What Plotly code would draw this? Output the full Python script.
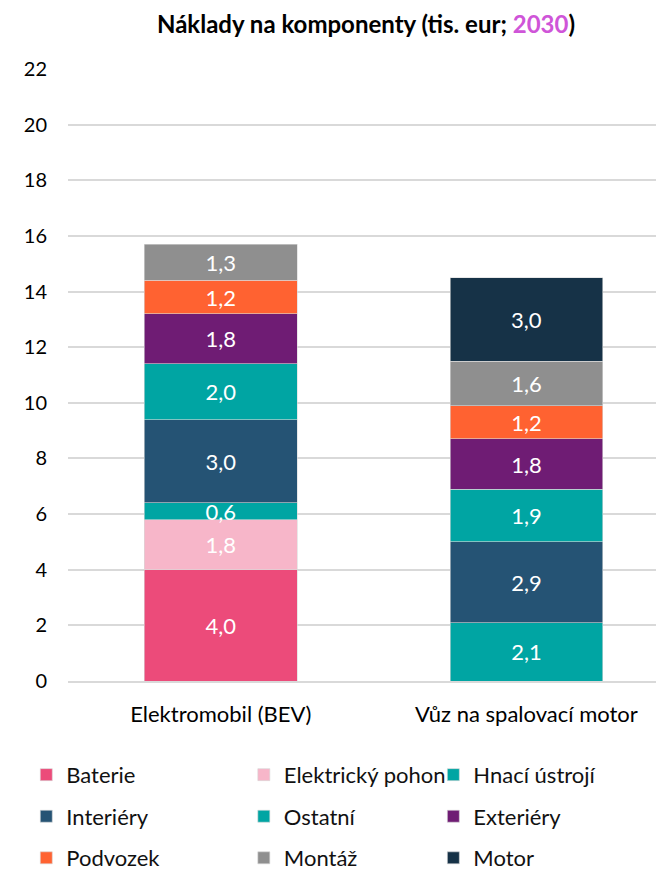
import plotly.graph_objects as go

categories = ["Elektromobil (BEV)", "Vůz na spalovací motor"]
series_names = ["Baterie", "Elektrický pohon", "Hnací ústrojí", "Interiéry", "Ostatní",
                "Exteriéry", "Podvozek", "Montáž", "Motor"]
baterie = [4.0, None]
elektricky_pohon = [1.8, None]
hnaci_ustroji = [0.6, 2.1]
interiery = [3.0, 2.9]
ostatni = [2.0, 1.9]
exteriery = [1.8, 1.8]
podvozek = [1.2, 1.2]
montaz = [1.3, 1.6]
motor = [None, 3.0]
series_values = [baterie, elektricky_pohon, hnaci_ustroji, interiery, ostatni,
                 exteriery, podvozek, montaz, motor]
colors = ["#EC4B7A", "#F7B6C9", "#00A5A3", "#255374", "#00A5A3",
          "#6F1C74", "#FF6231", "#8F8F8F", "#163247"]
tick_values = list(range(0, 23, 2))

FONT = "Lato"
legend_ids = ["legend", "legend2", "legend3"]

fig = go.Figure()
for i, (name, vals, col) in enumerate(zip(series_names, series_values, colors)):
    fig.add_trace(go.Bar(
        x=categories, y=vals, name=name,
        marker=dict(color=col, line=dict(width=0.6, color="#d8d8d8")),
        width=0.5,
        texttemplate="%{y:.1f}",
        textposition="inside", insidetextanchor="middle",
        textangle=0, constraintext="none",
        textfont=dict(color="white", size=22, family=FONT),
        legend=legend_ids[i % 3],
        legendgroup=name,
        hoverinfo="skip",
    ))

legend_common = dict(
    orientation="v", yanchor="top", y=-0.119, xanchor="left",
    font=dict(family=FONT, size=22, color="#111111"),
    tracegroupgap=10, bgcolor="rgba(0,0,0,0)", itemwidth=30,
)
# the page adds an 8px body margin, so the figure is 8px smaller than the window
fig.update_layout(
    width=656, height=864,
    barmode="stack",
    separators=", ",
    paper_bgcolor="white", plot_bgcolor="white",
    margin=dict(l=60, r=0, t=61, b=191, autoexpand=False),
    title=dict(
        text="<b>Náklady na komponenty (tis. eur; <span style='color:#CF55D8'>2030</span>)</b>",
        x=0.5, xref="paper", xanchor="center", y=1 - 17 / 864, yanchor="middle",
        font=dict(family=FONT, size=24, color="black"),
    ),
    font=dict(family=FONT, size=20, color="black"),
    xaxis=dict(range=[-0.50, 1.45], showline=True, linecolor="#d9d9d9", linewidth=1.5,
               ticks="", ticklabelstandoff=13,
               tickfont=dict(size=22, family=FONT, color="black")),
    yaxis=dict(range=[0, 22], tickvals=tick_values, showgrid=True, gridcolor="#d9d9d9",
               gridwidth=1.5, zeroline=False, ticks="", ticklabelstandoff=20,
               tickfont=dict(size=20, family=FONT, color="black")),
    showlegend=True,
    legend=dict(legend_common, x=-0.07),
    legend2=dict(legend_common, x=0.295),
    legend3=dict(legend_common, x=0.613),
)
fig.write_html("out.html")
